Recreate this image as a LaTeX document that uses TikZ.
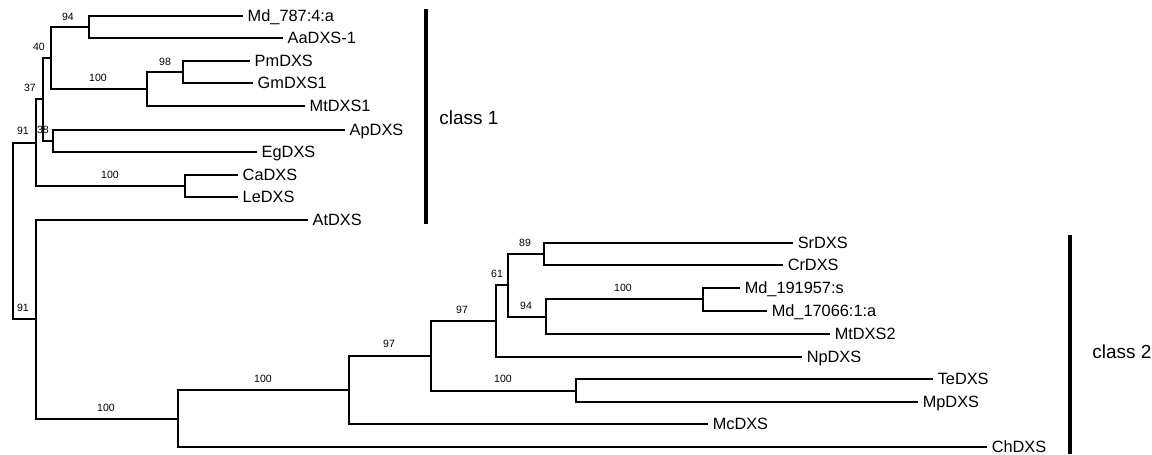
\documentclass[tikz,border=0pt]{standalone}
\usepackage{fontspec}
\setmainfont{Liberation Sans}
\begin{document}
\begin{tikzpicture}[x=0.02cm,y=-0.02cm,
  branch/.style={line width=0.6pt},
  leaf/.style={anchor=west,inner xsep=2.5pt,inner ysep=0pt,
    font=\fontsize{9.3}{11}\selectfont,text height=6.7pt,text depth=0pt},
  boot/.style={inner sep=0pt,font=\fontsize{6}{7}\selectfont},
  classbar/.style={line width=1.9pt},
  classlabel/.style={anchor=west,inner sep=0pt,font=\fontsize{10.8}{13}\selectfont}]
\useasboundingbox (0,0) rectangle (1152,454);
% leaves, class 1
\node[leaf] (md787) at (243,16) {Md\_787:4:a};
\node[leaf] (aadxs) at (283,38) {AaDXS-1};
\node[leaf] (pmdxs) at (250,61) {PmDXS};
\node[leaf] (gmdxs) at (253,83) {GmDXS1};
\node[leaf] (mtdxs1) at (305,106) {MtDXS1};
\node[leaf] (apdxs) at (345,130) {ApDXS};
\node[leaf] (egdxs) at (257,152) {EgDXS};
\node[leaf] (cadxs) at (238,175) {CaDXS};
\node[leaf] (ledxs) at (238,197) {LeDXS};
\node[leaf] (atdxs) at (308,220) {AtDXS};
% leaves, class 2
\node[leaf] (srdxs) at (793,243) {SrDXS};
\node[leaf] (crdxs) at (783,265) {CrDXS};
\node[leaf] (md191957) at (740,288) {Md\_191957:s};
\node[leaf] (md17066) at (767,311) {Md\_17066:1:a};
\node[leaf] (mtdxs2) at (830,334) {MtDXS2};
\node[leaf] (npdxs) at (802,357) {NpDXS};
\node[leaf] (tedxs) at (933,379) {TeDXS};
\node[leaf] (mpdxs) at (918,402) {MpDXS};
\node[leaf] (mcdxs) at (708,424) {McDXS};
\node[leaf] (chdxs) at (987,447) {ChDXS};
% internal nodes
\coordinate (root) at (13,231);
\coordinate (n91a) at (36,143);
\coordinate (n37) at (43,99);
\coordinate (n40) at (51,58);
\coordinate (n94a) at (89,27);
\coordinate (n100a) at (147,89);
\coordinate (n98) at (183,72);
\coordinate (n38) at (53,141);
\coordinate (n100b) at (185,186);
\coordinate (n91b) at (36,319);
\coordinate (n100c) at (178,419);
\coordinate (n100d) at (349,390);
\coordinate (n97a) at (431,356);
\coordinate (n97b) at (496,321);
\coordinate (n61) at (508,285);
\coordinate (n89) at (544,254);
\coordinate (n94b) at (546,317);
\coordinate (n100e) at (703,299);
\coordinate (n100f) at (576,391);
% branches
\draw[branch] (root) |- (n91a);
\draw[branch] (root) |- (n91b);
\draw[branch] (n91a) |- (n37);
\draw[branch] (n91a) |- (n100b);
\draw[branch] (n37) |- (n40);
\draw[branch] (n37) |- (n38);
\draw[branch] (n40) |- (n94a);
\draw[branch] (n40) |- (n100a);
\draw[branch] (n94a) |- (md787.west);
\draw[branch] (n94a) |- (aadxs.west);
\draw[branch] (n100a) |- (n98);
\draw[branch] (n100a) |- (mtdxs1.west);
\draw[branch] (n98) |- (pmdxs.west);
\draw[branch] (n98) |- (gmdxs.west);
\draw[branch] (n38) |- (apdxs.west);
\draw[branch] (n38) |- (egdxs.west);
\draw[branch] (n100b) |- (cadxs.west);
\draw[branch] (n100b) |- (ledxs.west);
\draw[branch] (n91b) |- (atdxs.west);
\draw[branch] (n91b) |- (n100c);
\draw[branch] (n100c) |- (n100d);
\draw[branch] (n100c) |- (chdxs.west);
\draw[branch] (n100d) |- (n97a);
\draw[branch] (n100d) |- (mcdxs.west);
\draw[branch] (n97a) |- (n97b);
\draw[branch] (n97a) |- (n100f);
\draw[branch] (n97b) |- (n61);
\draw[branch] (n97b) |- (npdxs.west);
\draw[branch] (n61) |- (n89);
\draw[branch] (n61) |- (n94b);
\draw[branch] (n89) |- (srdxs.west);
\draw[branch] (n89) |- (crdxs.west);
\draw[branch] (n94b) |- (n100e);
\draw[branch] (n94b) |- (mtdxs2.west);
\draw[branch] (n100e) |- (md191957.west);
\draw[branch] (n100e) |- (md17066.west);
\draw[branch] (n100f) |- (tedxs.west);
\draw[branch] (n100f) |- (mpdxs.west);
% bootstrap values
\node[boot] (b94a) at (68,17) {94};
\node[boot] (b40) at (39,47) {40};
\node[boot] (b37) at (30,88) {37};
\node[boot] (b98) at (165,62) {98};
\node[boot] (b100a) at (98,78) {100};
\node[boot] (b91a) at (23,131) {91};
\node[boot] (b38) at (43,130) {38};
\node[boot] (b100b) at (110,175) {100};
\node[boot] (b91b) at (23,308) {91};
\node[boot] (b100c) at (106,408) {100};
\node[boot] (b100d) at (263,379) {100};
\node[boot] (b97a) at (389,344) {97};
\node[boot] (b97b) at (462,310) {97};
\node[boot] (b61) at (497,274) {61};
\node[boot] (b89) at (525,243) {89};
\node[boot] (b94b) at (526,306) {94};
\node[boot] (b100e) at (623,288) {100};
\node[boot] (b100f) at (503,379) {100};
% classes
\coordinate (c1top) at (426,9);
\coordinate (c1bot) at (426,224);
\coordinate (c2top) at (1070,235);
\coordinate (c2bot) at (1070,454);
\draw[classbar] (c1top) -- (c1bot);
\draw[classbar] (c2top) -- (c2bot);
\node[classlabel] (class1) at (439,118) {class 1};
\node[classlabel] (class2) at (1092,352) {class 2};
\end{tikzpicture}
\end{document}
